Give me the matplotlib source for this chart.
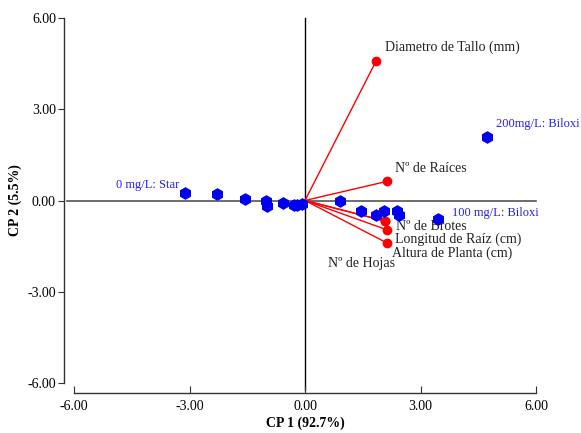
import matplotlib
matplotlib.use("Agg")
import matplotlib.pyplot as plt

plt.rcParams["font.family"] = ["Liberation Serif", "DejaVu Serif"]

# ---- scores (treatments) ------------------------------------------------
score_x = [-3.12, -2.28, -1.56, -1.02, -0.98, -0.58, -0.29, -0.22, -0.09,
           0.91, 1.46, 1.84, 2.06, 2.39, 2.45, 3.46, 4.73]
score_y = [0.26, 0.22, 0.05, -0.02, -0.19, -0.09, -0.14, -0.16, -0.11,
           -0.02, -0.33, -0.47, -0.33, -0.35, -0.49, -0.60, 2.10]

# ---- loadings (variables) ----------------------------------------------
var_names = ["Diametro de Tallo (mm)", "N\u00ba de Ra\u00edces", "N\u00ba de Brotes",
             "Longitud de Ra\u00edz (cm)", "Altura de Planta (cm)", "N\u00ba de Hojas"]
var_x = [1.84, 2.13, 2.09, 2.12, 2.12, 2.09]
var_y = [4.57, 0.63, -0.68, -0.96, -1.39, -0.68]
# label anchor (data coords) for each variable
lab_x = [2.07, 2.35, 2.36, 2.35, 2.27, 0.60]
lab_y = [5.05, 1.05, -0.86, -1.26, -1.72, -2.08]

group_labels = ["0 mg/L: Star", "200mg/L: Biloxi", "100 mg/L: Biloxi"]
group_x = [-4.90, 4.95, 3.82]
group_y = [0.50, 2.52, -0.42]

fig = plt.figure(figsize=(5.81, 4.33), dpi=100)
ax = fig.add_axes([74 / 581, 50 / 433, 462 / 581, 365 / 433])
ax.set_xlim(-6, 6)
ax.set_ylim(-6, 6)

for s in ("top", "right"):
    ax.spines[s].set_visible(False)
ax.spines["left"].set_position(("outward", 7))
ax.spines["bottom"].set_position(("outward", 7))
for s in ("left", "bottom"):
    ax.spines[s].set_color("#333333")
    ax.spines[s].set_linewidth(1.0)

ticks = [-6, -3, 0, 3, 6]
ax.set_xticks(ticks)
ax.set_yticks(ticks)
ax.set_xticklabels([f"{t:.2f}" for t in ticks])
ax.set_yticklabels([f"{t:.2f}" for t in ticks])
ax.tick_params(axis="x", direction="in", length=5, labelsize=10, pad=5, color="#333333")
ax.tick_params(axis="y", direction="out", length=4, labelsize=10, pad=2, color="#333333")

# reference lines through the origin
ax.plot([-6.18, 6], [0, 0], color="#555555", lw=1.2, clip_on=False, zorder=1)
ax.plot([0, 0], [6, -6.23], color="black", lw=1.0, clip_on=False, zorder=1)

# loading vectors
for vx, vy in zip(var_x, var_y):
    ax.plot([0, vx], [0, vy], color="red", lw=1.0, zorder=2)
ax.plot(var_x, var_y, "o", color="red", ms=6, zorder=3)
for name, tx, ty in zip(var_names, lab_x, lab_y):
    ax.text(tx, ty, name, fontsize=10, color="#222222", ha="left", va="center")

# treatment scores
ax.plot(score_x, score_y, "h", color="#0000ee", ms=8, zorder=4)
for name, tx, ty in zip(group_labels, group_x, group_y):
    ax.text(tx, ty, name, fontsize=9, color="#2222ee", ha="left", va="center")

ax.set_xlabel("CP 1 (92.7%)", fontsize=10, fontweight="bold", labelpad=3)
ax.set_ylabel("CP 2 (5.5%)", fontsize=10, fontweight="bold", labelpad=4)

fig.savefig("out.png", dpi=100)
